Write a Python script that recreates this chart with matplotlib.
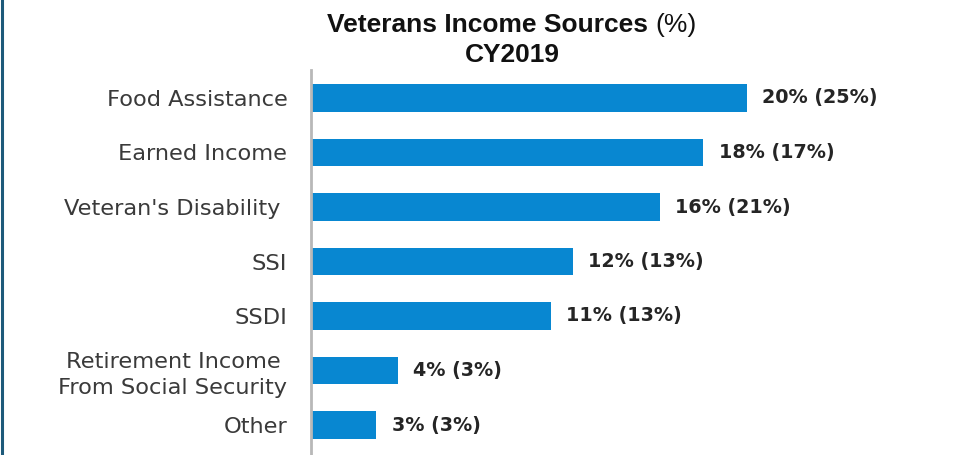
import matplotlib
matplotlib.use("Agg")
import matplotlib.pyplot as plt
from matplotlib.lines import Line2D

categories = ["Food Assistance", "Earned Income", "Veteran's Disability ", "SSI", "SSDI",
              "Retirement Income \nFrom Social Security", "Other"]
share_2019 = [20, 18, 16, 12, 11, 4, 3]
share_prior = [25, 17, 21, 13, 13, 3, 3]

W, H, DPI = 974, 455, 100
fig = plt.figure(figsize=(W / DPI, H / DPI), dpi=DPI)
fig.patch.set_facecolor("white")

ax_left, ax_top = 311, 70
ax = fig.add_axes([ax_left / W, 0, (W - ax_left) / W, (H - ax_top) / H])

ypos = list(range(len(categories)))
ax.barh(ypos, share_2019, height=0.5, color="#0887d1", edgecolor="none")

px_per_unit = 21.8
ax.set_xlim(0, (W - ax_left) / px_per_unit)
ax.set_ylim(6 + 30 / 54.5, -28 / 54.5)

for y, v, p in zip(ypos, share_2019, share_prior):
    ax.annotate(f"{v}% ({p}%)", xy=(v, y), xytext=(11, 0), textcoords="offset points",
                ha="left", va="center", fontsize=13.8, fontweight="bold",
                color="#252525", family="DejaVu Sans")

ax.set_yticks(ypos)
ax.set_yticklabels(categories, fontsize=16.2, color="#3a3a3a", family="DejaVu Sans",
                   linespacing=1.35)
ax.tick_params(axis="y", length=0, pad=17)
ax.tick_params(axis="x", bottom=False, labelbottom=False)
for s in ["top", "right", "bottom"]:
    ax.spines[s].set_visible(False)
ax.spines["left"].set_color("#b8b8b8")
ax.spines["left"].set_linewidth(2)

# Title: bold heading with a regular-weight unit suffix, then the year
fig.canvas.draw()
renderer = fig.canvas.get_renderer()
t1 = fig.text(0, 1 - 25 / H, "Veterans Income Sources ", fontsize=19, fontweight="bold",
              family="Liberation Sans", va="center", ha="left", color="#111111")
t2 = fig.text(0, 1 - 25 / H, "(%)", fontsize=19, fontweight="normal",
              family="Liberation Sans", va="center", ha="left", color="#111111")
w1 = t1.get_window_extent(renderer).width
w2 = t2.get_window_extent(renderer).width
cx = 512
x0 = cx - (w1 + w2) / 2
t1.set_x(x0 / W)
t2.set_x((x0 + w1) / W)
fig.text(cx / W, 1 - 55 / H, "CY2019", fontsize=19, fontweight="bold",
         family="Liberation Sans", va="center", ha="center", color="#111111")

# Frame line on the left edge
fig.add_artist(Line2D([2 / W, 2 / W], [0, 1], transform=fig.transFigure,
                      color="#1d5a7a", linewidth=2.2))

fig.savefig("out.png", dpi=DPI, facecolor="white")
